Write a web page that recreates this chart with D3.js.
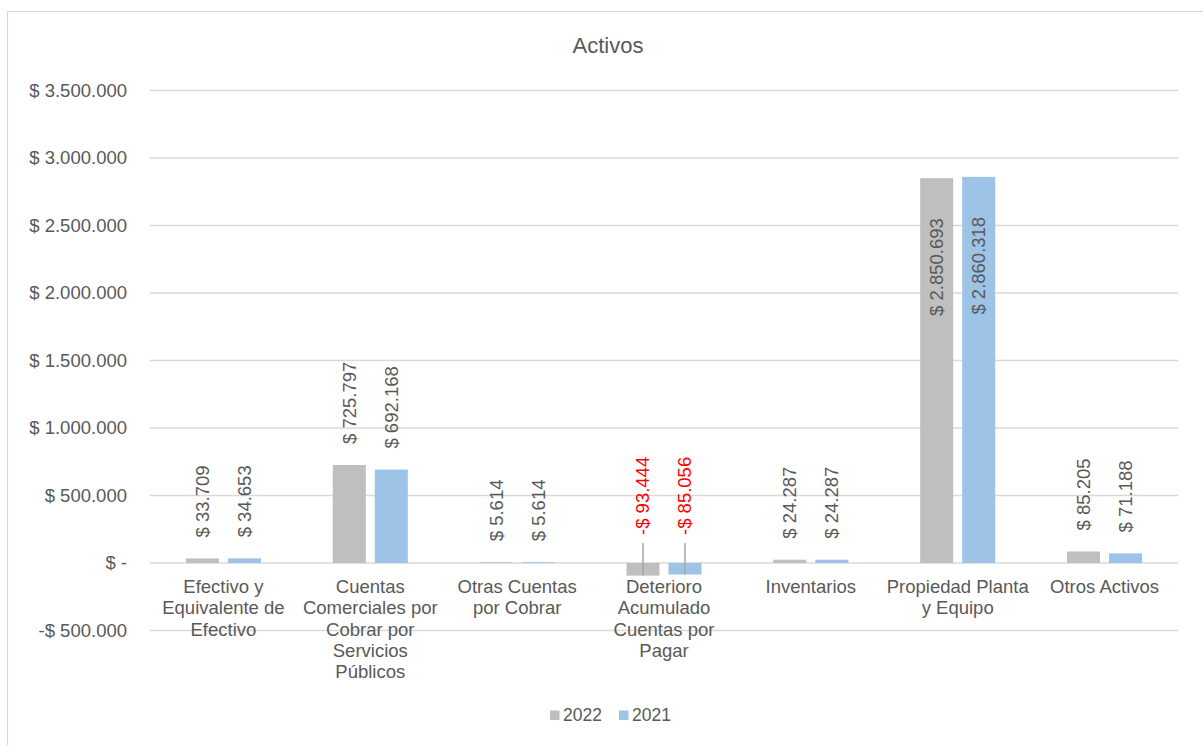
<!DOCTYPE html>
<html>
<head>
<meta charset="utf-8">
<script src="https://cdn.jsdelivr.net/npm/d3@7/dist/d3.min.js"></script>
<style>
  html, body { margin: 0; padding: 0; background: #ffffff; }
  svg { display: block; font-family: "Liberation Sans", Arial, sans-serif; }
</style>
</head>
<body>
<svg id="chart" width="1203" height="745"></svg>
<script>
// ---- Data ----
const categories = [
  "Efectivo y\nEquivalente de\nEfectivo",
  "Cuentas\nComerciales por\nCobrar por\nServicios\nPúblicos",
  "Otras Cuentas\npor Cobrar",
  "Deterioro\nAcumulado\nCuentas por\nPagar",
  "Inventarios",
  "Propiedad Planta\ny Equipo",
  "Otros Activos"
];
const seriesNames = ["2022", "2021"];
const values2022 = [33709, 725797, 5614, -93444, 24287, 2850693, 85205];
const values2021 = [34653, 692168, 5614, -85056, 24287, 2860318, 71188];
const tickValues = [-500000, 0, 500000, 1000000, 1500000, 2000000, 2500000, 3000000, 3500000];
const chartTitle = "Activos";

// ---- Styles ----
const colors = { "2022": "#bfbfbf", "2021": "#9dc3e6" };
const textColor = "#595959";
const gridColor = "#d9d9d9";

const svg = d3.select("#chart");
const W = 1203, H = 745;

// chart frame
svg.append("rect")
  .attr("x", 7.5).attr("y", 11.5)
  .attr("width", 1202).attr("height", 800)
  .attr("fill", "#ffffff").attr("stroke", gridColor).attr("stroke-width", 1.2);

const plot = { left: 150, right: 1178 };
const y = d3.scaleLinear().domain([-500000, 3500000]).range([630.5, 90.5]);
const x0 = d3.scaleBand().domain(categories).range([plot.left, plot.right]).padding(0);
const x1 = d3.scaleBand().domain(seriesNames).range([0, x0.bandwidth()])
  .paddingInner(0.214).paddingOuter(0.855);

// number formatting (es: dot thousands)
const fmtNum = d3.formatLocale({ decimal: ",", thousands: ".", grouping: [3], currency: ["", ""] }).format(",.0f");
function fmtTick(v) {
  if (v === 0) return "$ -";
  return (v < 0 ? "-$ " : "$ ") + fmtNum(Math.abs(v));
}
function fmtLabel(v) {
  return (v < 0 ? "-$ " : "$ ") + fmtNum(Math.abs(v));
}

// gridlines
svg.append("g").selectAll("line").data(tickValues).join("line")
  .attr("x1", plot.left).attr("x2", plot.right)
  .attr("y1", d => y(d)).attr("y2", d => y(d))
  .attr("stroke", gridColor).attr("stroke-width", 1.6);

// y tick labels via axis
const yAxis = d3.axisLeft(y).tickValues(tickValues).tickFormat(fmtTick).tickSize(0).tickPadding(0);
const ya = svg.append("g").attr("transform", "translate(127,0)").call(yAxis);
ya.select(".domain").remove();
ya.selectAll("text").attr("fill", textColor).style("font-size", "18.5px")
  .style("font-family", "'Liberation Sans', Arial, sans-serif");

// title
svg.append("text").attr("x", 608).attr("y", 53).attr("text-anchor", "middle")
  .attr("fill", textColor).style("font-size", "22px").text(chartTitle);

// data table
const rows = categories.map((c, i) => ({ cat: c, vals: [
  { s: "2022", v: values2022[i] }, { s: "2021", v: values2021[i] } ] }));

const groups = svg.append("g").selectAll("g").data(rows).join("g")
  .attr("transform", d => `translate(${x0(d.cat)},0)`);

groups.selectAll("rect").data(d => d.vals).join("rect")
  .attr("x", d => x1(d.s))
  .attr("width", x1.bandwidth())
  .attr("y", d => y(Math.max(0, d.v)))
  .attr("height", d => Math.abs(y(d.v) - y(0)))
  .attr("fill", d => colors[d.s]);

// data labels
const labelSize = 18.5;
groups.each(function(d) {
  const g = d3.select(this);
  d.vals.forEach(item => {
    const cx = x1(item.s) + x1.bandwidth() / 2;
    const txt = fmtLabel(item.v);
    if (item.v < 0) {
      // leader line + label above zero
      g.append("line")
        .attr("x1", cx).attr("x2", cx)
        .attr("y1", y(0) - 20).attr("y2", y(item.v))
        .attr("stroke", "#a6a6a6").attr("stroke-width", 1.5);
      g.append("text")
        .attr("transform", `translate(${cx},${y(0) - 28}) rotate(-90)`)
        .attr("dy", "0.35em").attr("text-anchor", "start")
        .attr("fill", "#ff0000").style("font-size", labelSize + "px").text(txt);
    } else {
      const t = g.append("text")
        .attr("dy", "0.35em")
        .attr("fill", textColor).style("font-size", labelSize + "px").text(txt);
      const len = t.node().getComputedTextLength();
      const top = y(item.v);
      if (top - 21 - len < y(3500000)) {
        // does not fit above: place inside bar
        t.attr("transform", `translate(${cx},${top + 40}) rotate(-90)`).attr("text-anchor", "end");
      } else {
        t.attr("transform", `translate(${cx},${top - 21}) rotate(-90)`).attr("text-anchor", "start");
      }
    }
  });
});

// category labels
const catG = svg.append("g");
categories.forEach(c => {
  const lines = c.split("\n");
  const t = catG.append("text")
    .attr("x", x0(c) + x0.bandwidth() / 2).attr("y", 593)
    .attr("text-anchor", "middle").attr("fill", textColor).style("font-size", "18.5px");
  lines.forEach((ln, i) => {
    t.append("tspan").attr("x", x0(c) + x0.bandwidth() / 2).attr("y", 593 + i * 21.3).text(ln);
  });
});

// legend
const legend = svg.append("g");
const legendItems = [ { s: "2022", x: 550 }, { s: "2021", x: 619 } ];
legend.selectAll("rect").data(legendItems).join("rect")
  .attr("x", d => d.x).attr("y", 710.5).attr("width", 9.5).attr("height", 9.5)
  .attr("fill", d => colors[d.s]);
legend.selectAll("text").data(legendItems).join("text")
  .attr("x", d => d.x + 13).attr("y", 721)
  .attr("fill", textColor).style("font-size", "17.5px").text(d => d.s);
</script>
</body>
</html>
